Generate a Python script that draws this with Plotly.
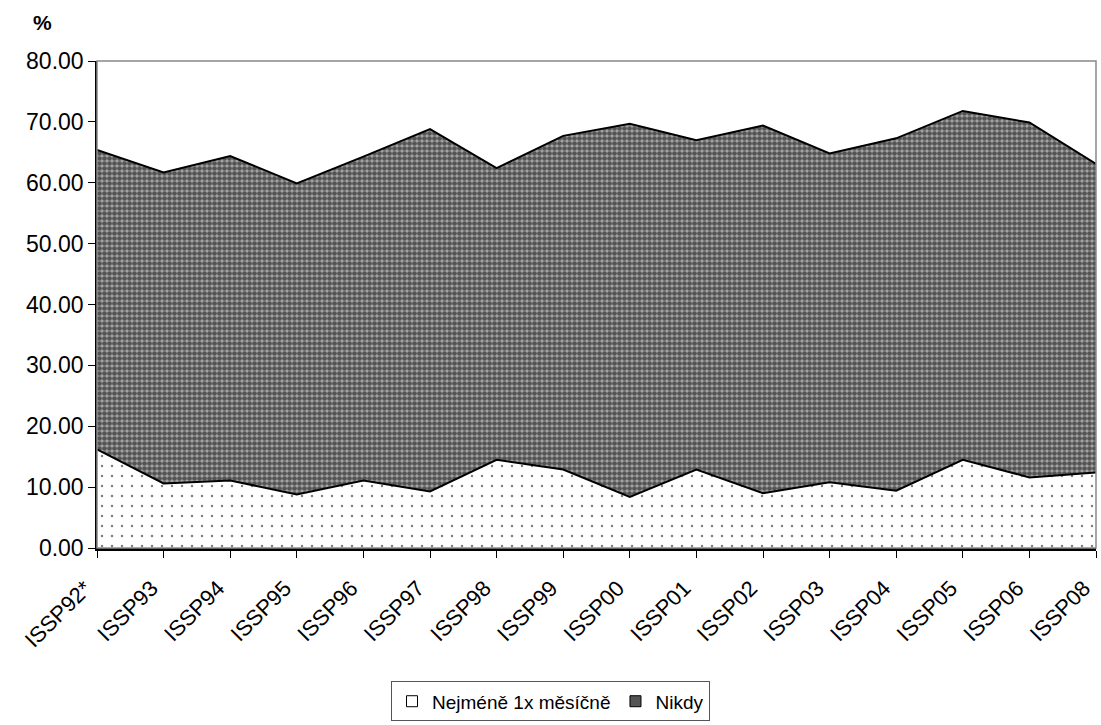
import plotly.graph_objects as go

categories = ["ISSP92*", "ISSP93", "ISSP94", "ISSP95", "ISSP96", "ISSP97", "ISSP98", "ISSP99",
              "ISSP00", "ISSP01", "ISSP02", "ISSP03", "ISSP04", "ISSP05", "ISSP06", "ISSP08"]
monthly = [16.2, 10.6, 11.1, 8.8, 11.1, 9.3, 14.5, 12.9, 8.4, 12.9, 9.0, 10.8, 9.4, 14.5, 11.6, 12.4]
total_top = [65.4, 61.7, 64.4, 59.9, 64.3, 68.8, 62.4, 67.7, 69.7, 67.0, 69.4, 64.8, 67.3, 71.8, 69.9, 63.1]
never = [round(t - m, 2) for t, m in zip(total_top, monthly)]

series_names = ["Nejméně 1x měsíčně", "Nikdy"]
y_ticks = [0, 10, 20, 30, 40, 50, 60, 70, 80]

FONT = "Liberation Sans, Arial, sans-serif"

fig = go.Figure()
fig.add_trace(go.Scatter(
    x=categories, y=monthly, name=series_names[0], stackgroup="one", mode="lines",
    line=dict(color="black", width=2), showlegend=False,
    fillcolor="white",
    fillpattern=dict(shape=".", fgcolor="black", bgcolor="white", size=10, solidity=0.05),
))
fig.add_trace(go.Scatter(
    x=categories, y=never, name=series_names[1], stackgroup="one", mode="lines",
    line=dict(color="black", width=2), showlegend=False,
    fillcolor="#888888",
    fillpattern=dict(shape=".", fgcolor="black", bgcolor="#a8a8a8", size=5, solidity=0.7),
))
# legend entries (square swatches as in the reference legend)
fig.add_trace(go.Scatter(
    x=[None], y=[None], name=series_names[0], mode="markers",
    marker=dict(symbol="square", size=11, color="white", line=dict(color="black", width=1)),
))
fig.add_trace(go.Scatter(
    x=[None], y=[None], name=series_names[1], mode="markers",
    marker=dict(symbol="square", size=11, color="#555555", line=dict(color="black", width=1)),
))

# plot frame (gray)
fig.add_shape(type="rect", xref="paper", yref="paper", x0=0, x1=1, y0=0, y1=1,
              line=dict(color="#888888", width=1.5), layer="above")

fig.update_layout(
    width=1101, height=725, autosize=False,
    margin=dict(l=97, r=5, t=61, b=177),
    paper_bgcolor="white", plot_bgcolor="white",
    font=dict(family=FONT, size=20, color="black"),
    showlegend=True,
    legend=dict(
        orientation="h", xref="container", yref="container",
        x=0.5, xanchor="center", y=0.005, yanchor="bottom",
        bordercolor="#555555", borderwidth=1, bgcolor="white",
        font=dict(family=FONT, size=19), traceorder="normal",
        itemwidth=30,
    ),
    annotations=[dict(text="<b>%</b>", xref="paper", yref="paper", x=-0.055, y=1.08,
                      xanchor="center", yanchor="middle", showarrow=False,
                      font=dict(family=FONT, size=21))],
)
fig.update_xaxes(
    type="category", range=[0, len(categories) - 1], showgrid=False, automargin=False,
    showline=True, linecolor="black", linewidth=2.5,
    ticks="outside", ticklen=7, tickcolor="black", tickwidth=1,
    tickangle=-45, tickfont=dict(family=FONT, size=22),
    ticklabelstandoff=9, ticklabelshift=-12,
)
fig.update_yaxes(
    range=[0, 80], tickvals=y_ticks, tickformat=".2f", showgrid=False, zeroline=False,
    automargin=False,
    showline=True, linecolor="black", linewidth=1.5,
    ticks="outside", ticklen=7, tickcolor="black",
    tickfont=dict(family=FONT, size=23),
)

fig.write_html(
    "out.html",
    config={"displayModeBar": False},
    post_script="document.documentElement.style.margin='0';document.body.style.margin='0';"
                "document.body.style.overflow='hidden';",
)
